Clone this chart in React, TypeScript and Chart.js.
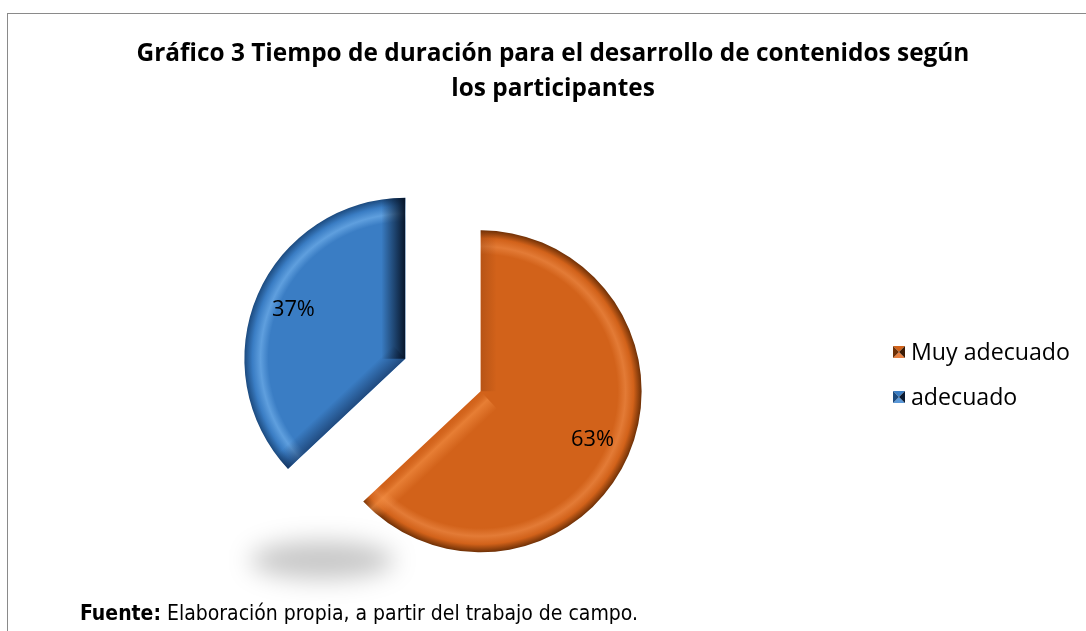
import React, { useEffect, useRef } from "react";
import { Chart, registerables } from "chart.js";

Chart.register(...registerables);

// ---- data ----
const categories = ["Muy adecuado", "adecuado"];
const values = [63, 37];
const valueLabels = ["63%", "37%"];
const titleLines = [
  "Gráfico 3 Tiempo de duración para el desarrollo de contenidos según",
  "los participantes",
];
const sourceBold = "Fuente:";
const sourceText = " Elaboración propia, a partir del trabajo de campo.";

// ---- styles ----
const baseColors = ["#D2621A", "#3A7DC4"];
const rimLight = ["#E37B36", "#5F9FDE"];
const rimDark = ["#6E3006", "#1C4A7E"];
const legendLight = ["#E88040", "#5A98D8"];
const RADIUS = 161;
const EXPLODE = 41;
const LABEL_DIST = 122;
const FAMILY = "'Open Sans', Lato, sans-serif";

function fitFont(ctx: CanvasRenderingContext2D, text: string, weight: string, target: number) {
  ctx.font = `${weight} 20px ${FAMILY}`;
  const w = ctx.measureText(text).width;
  const size = (20 * target) / w;
  return `${weight} ${size.toFixed(2)}px ${FAMILY}`;
}

function sliceFill(context: any) {
  const chart = context.chart;
  const area = chart.chartArea;
  const i = context.dataIndex ?? 0;
  if (!area) return baseColors[i];
  const cx = (area.left + area.right) / 2;
  const cy = (area.top + area.bottom) / 2;
  const g = chart.ctx.createRadialGradient(cx, cy, 0, cx, cy, RADIUS);
  g.addColorStop(0, baseColors[i]);
  g.addColorStop(0.85, baseColors[i]);
  g.addColorStop(0.9, rimLight[i]);
  g.addColorStop(0.95, baseColors[i]);
  g.addColorStop(1, rimDark[i]);
  return g;
}

// edge bevel definitions: [startEdge, endEdge] per slice
const edgeStyles = [
  [
    { stops: [[0, "rgba(120,50,10,0.3)"], [1, "rgba(120,50,10,0)"]], w: 16 },
    { stops: [[0, "rgba(200,90,20,0.1)"], [0.45, "rgba(245,145,70,0.6)"], [1, "rgba(245,145,70,0)"]], w: 24 },
  ],
  [
    { stops: [[0, "rgba(15,40,80,0.6)"], [1, "rgba(15,40,80,0)"]], w: 18 },
    { stops: [[0, "rgba(4,16,34,0.95)"], [1, "rgba(4,16,34,0)"]], w: 24 },
  ],
];

function drawEdge(ctx: CanvasRenderingContext2D, x: number, y: number, a: number, r: number, start: boolean, st: any) {
  const dx = Math.cos(a), dy = Math.sin(a);
  const nx = start ? -dy : dy;
  const ny = start ? dx : -dx;
  const mx = x + dx * r * 0.5, my = y + dy * r * 0.5;
  const g = ctx.createLinearGradient(mx, my, mx + nx * st.w, my + ny * st.w);
  st.stops.forEach((s: any) => g.addColorStop(s[0], s[1]));
  ctx.fillStyle = g;
  ctx.beginPath();
  ctx.moveTo(x, y);
  ctx.lineTo(x + dx * r, y + dy * r);
  ctx.lineTo(x + dx * r + nx * st.w, y + dy * r + ny * st.w);
  ctx.lineTo(x + nx * st.w, y + ny * st.w);
  ctx.closePath();
  ctx.fill();
}

const decorPlugin = {
  id: "decor",
  beforeDatasetsDraw(chart: any) {
    const ctx = chart.ctx as CanvasRenderingContext2D;
    const a = chart.chartArea;
    const cx = (a.left + a.right) / 2;
    const cy = (a.top + a.bottom) / 2;
    ctx.save();
    ctx.filter = "blur(12px)";
    ctx.fillStyle = "rgba(0,0,0,0.22)";
    ctx.beginPath();
    ctx.ellipse(cx - 0.75 * RADIUS, cy + 1.15 * RADIUS, 72, 19, 0, 0, Math.PI * 2);
    ctx.fill();
    ctx.restore();
  },
  beforeDatasetDraw(chart: any, args: any) {
    const ctx = chart.ctx as CanvasRenderingContext2D;
    args.meta.data.forEach((arc: any, i: number) => {
      const p = arc.getProps(["x", "y", "startAngle", "endAngle", "outerRadius"], true);
      const mid = (p.startAngle + p.endAngle) / 2;
      ctx.save();
      ctx.translate(Math.cos(mid) * EXPLODE, Math.sin(mid) * EXPLODE);
      arc.draw(ctx);
      ctx.beginPath();
      ctx.moveTo(p.x, p.y);
      ctx.arc(p.x, p.y, p.outerRadius, p.startAngle, p.endAngle);
      ctx.closePath();
      ctx.clip();
      drawEdge(ctx, p.x, p.y, p.startAngle, p.outerRadius, true, edgeStyles[i][0]);
      drawEdge(ctx, p.x, p.y, p.endAngle, p.outerRadius, false, edgeStyles[i][1]);
      ctx.restore();
    });
    return false;
  },
  afterDraw(chart: any) {
    const ctx = chart.ctx as CanvasRenderingContext2D;
    const W = chart.width;
    // title
    ctx.save();
    ctx.fillStyle = "#000";
    const titleFont = fitFont(ctx, titleLines[0], "bold", 833);
    ctx.font = titleFont;
    ctx.textAlign = "center";
    ctx.textBaseline = "alphabetic";
    const tx = W / 2 + 10;
    titleLines.forEach((t, k) => ctx.fillText(t, tx, 61 + k * 35));
    // value labels
    const meta = chart.getDatasetMeta(0);
    ctx.font = fitFont(ctx, valueLabels[1], "normal", 43);
    ctx.textBaseline = "middle";
    meta.data.forEach((arc: any, i: number) => {
      const p = arc.getProps(["x", "y", "startAngle", "endAngle"], true);
      const mid = (p.startAngle + p.endAngle) / 2;
      const d = EXPLODE + LABEL_DIST;
      ctx.fillText(valueLabels[i], p.x + Math.cos(mid) * d, p.y + Math.sin(mid) * d);
    });
    // legend
    ctx.textAlign = "left";
    const legendFont = fitFont(ctx, categories[0], "normal", 159);
    categories.forEach((c, i) => {
      const lx = 893, ly = 352 + i * 45, s = 12;
      const x0 = lx, y0 = ly - s / 2, x1 = lx + s, y1 = ly + s / 2, mx = lx + s / 2;
      const tri = (pts: number[][], col: string) => {
        ctx.fillStyle = col;
        ctx.beginPath();
        ctx.moveTo(pts[0][0], pts[0][1]);
        ctx.lineTo(pts[1][0], pts[1][1]);
        ctx.lineTo(pts[2][0], pts[2][1]);
        ctx.closePath();
        ctx.fill();
      };
      tri([[x0, y0], [x1, y0], [mx, ly]], baseColors[i]);
      tri([[x0, y1], [x1, y1], [mx, ly]], legendLight[i]);
      tri([[x0, y0], [x0, y1], [mx, ly]], rimDark[i]);
      tri([[x1, y0], [x1, y1], [mx, ly]], i === 0 ? "#3a1a04" : "#0a1a30");
      ctx.fillStyle = "#000";
      ctx.font = legendFont;
      ctx.fillText(c, lx + s + 6, ly + 1);
    });
    // source
    ctx.font = "bold 21px 'Liberation Sans Narrow', 'DejaVu Sans Condensed', sans-serif";
    ctx.textBaseline = "alphabetic";
    const bw = ctx.measureText(sourceBold).width;
    ctx.fillText(sourceBold, 80, 620);
    ctx.font = "21px 'Liberation Sans Narrow', 'DejaVu Sans Condensed', sans-serif";
    ctx.fillText(sourceText, 80 + bw, 620);
    ctx.restore();
  },
};

export default function App() {
  const ref = useRef<HTMLCanvasElement | null>(null);
  useEffect(() => {
    if (!ref.current) return;
    const chart = new Chart(ref.current, {
      type: "pie",
      data: {
        labels: categories,
        datasets: [
          {
            data: values,
            backgroundColor: sliceFill as any,
            borderWidth: 0,
            hoverOffset: 0,
          },
        ],
      },
      options: {
        animation: false,
        responsive: false,
        radius: RADIUS,
        layout: { padding: { left: 200, right: 400, top: 200, bottom: 81 } },
        plugins: {
          legend: { display: false },
          title: { display: false },
          tooltip: { enabled: false },
        },
        events: [],
      } as any,
      plugins: [decorPlugin],
    });
    return () => chart.destroy();
  }, []);
  return (
    <div style={{ position: "fixed", left: 0, top: 0, width: 1086, height: 631, background: "#fff", overflow: "hidden" }}>
      <div style={{ position: "absolute", left: 7, top: 13, width: 1200, height: 700, borderTop: "1px solid #8a8a8a", borderLeft: "1px solid #8a8a8a" }} />
      <canvas ref={ref} width={1086} height={631} style={{ position: "absolute", left: 0, top: 0, width: 1086, height: 631 }} />
    </div>
  );
}
